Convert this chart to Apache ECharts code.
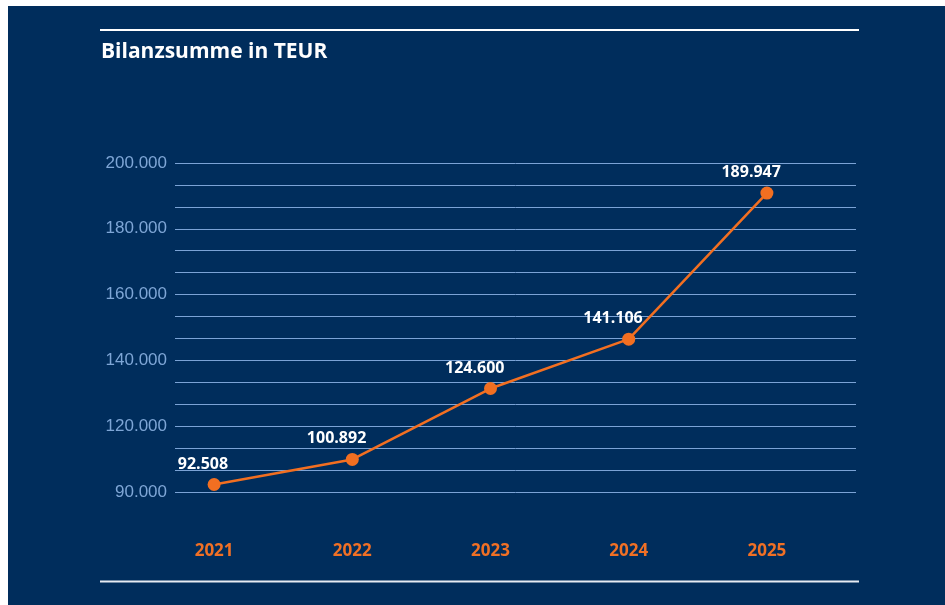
<!DOCTYPE html>
<html><head><meta charset="utf-8">
<script src="https://cdn.jsdelivr.net/npm/echarts@6/dist/echarts.min.js"></script>
<style>html,body{margin:0;padding:0;background:#fff}#c{width:945px;height:605px}</style>
</head><body><div id="c"></div>
<script>
const categories = ['2021','2022','2023','2024','2025'];
const values = [92508, 100892, 124600, 141106, 189947];
const tickLabels = ['90.000','120.000','140.000','160.000','180.000','200.000'];
const axisMin = 90000, axisMax = 200000;
const gridSteps = 15; // gridline intervals, label every 3rd

const fmt = v => v.toLocaleString('de-DE');
const chart = echarts.init(document.getElementById('c'));
chart.setOption({
  animation: false,
  backgroundColor: '#ffffff',
  graphic: [
    {type:'rect', shape:{x:8,y:6,width:937,height:599}, style:{fill:'#002d5c'}, z:-10},
    {type:'line', shape:{x1:100,y1:30,x2:859,y2:30}, style:{stroke:'#ffffff',lineWidth:2}},
    {type:'line', shape:{x1:100,y1:581.5,x2:859,y2:581.5}, style:{stroke:'#e6ebf2',lineWidth:2}},
    {type:'text', left:101, top:42, style:{text:'Bilanzsumme in TEUR', fill:'#ffffff', font:'bold 21px "Open Sans", sans-serif'}}
  ],
  grid: [
    {left:175, right:89, top:163, bottom:113},
    {left:145, right:109, top:163, bottom:113}
  ],
  xAxis: [
    {type:'category', gridIndex:0, data:categories, show:false},
    {type:'category', gridIndex:1, data:categories, boundaryGap:true,
     axisLine:{show:false}, axisTick:{show:false},
     axisLabel:{color:'#f07025', fontWeight:'bold', fontSize:17, margin:51, fontFamily:'"Open Sans", sans-serif'}}
  ],
  yAxis: [
    {type:'value', gridIndex:0, min:0, max:gridSteps, interval:1,
     axisLine:{show:false}, axisTick:{show:false},
     splitLine:{show:true, lineStyle:{color:'#7ba3d6', width:1}},
     axisLabel:{color:'#7ea6d6', fontSize:17, margin:8, fontFamily:'"Liberation Sans", Arial, sans-serif',
       formatter: v => (v % 3 === 0 ? tickLabels[v/3] : '')}},
    {type:'value', gridIndex:1, min:axisMin, max:axisMax, show:false, splitLine:{show:false}}
  ],
  series: [{
    type:'line', xAxisIndex:1, yAxisIndex:1, data:values,
    symbol:'circle', symbolSize:13,
    lineStyle:{color:'#f26f21', width:2.5},
    itemStyle:{color:'#f26f21'},
    label:{show:true, position:'top', distance:6, align:'right', offset:[14,0],
      color:'#ffffff', fontWeight:'bold', fontSize:16, fontFamily:'"Open Sans", sans-serif',
      formatter: p => fmt(p.value)}
  }]
});
</script></body></html>
